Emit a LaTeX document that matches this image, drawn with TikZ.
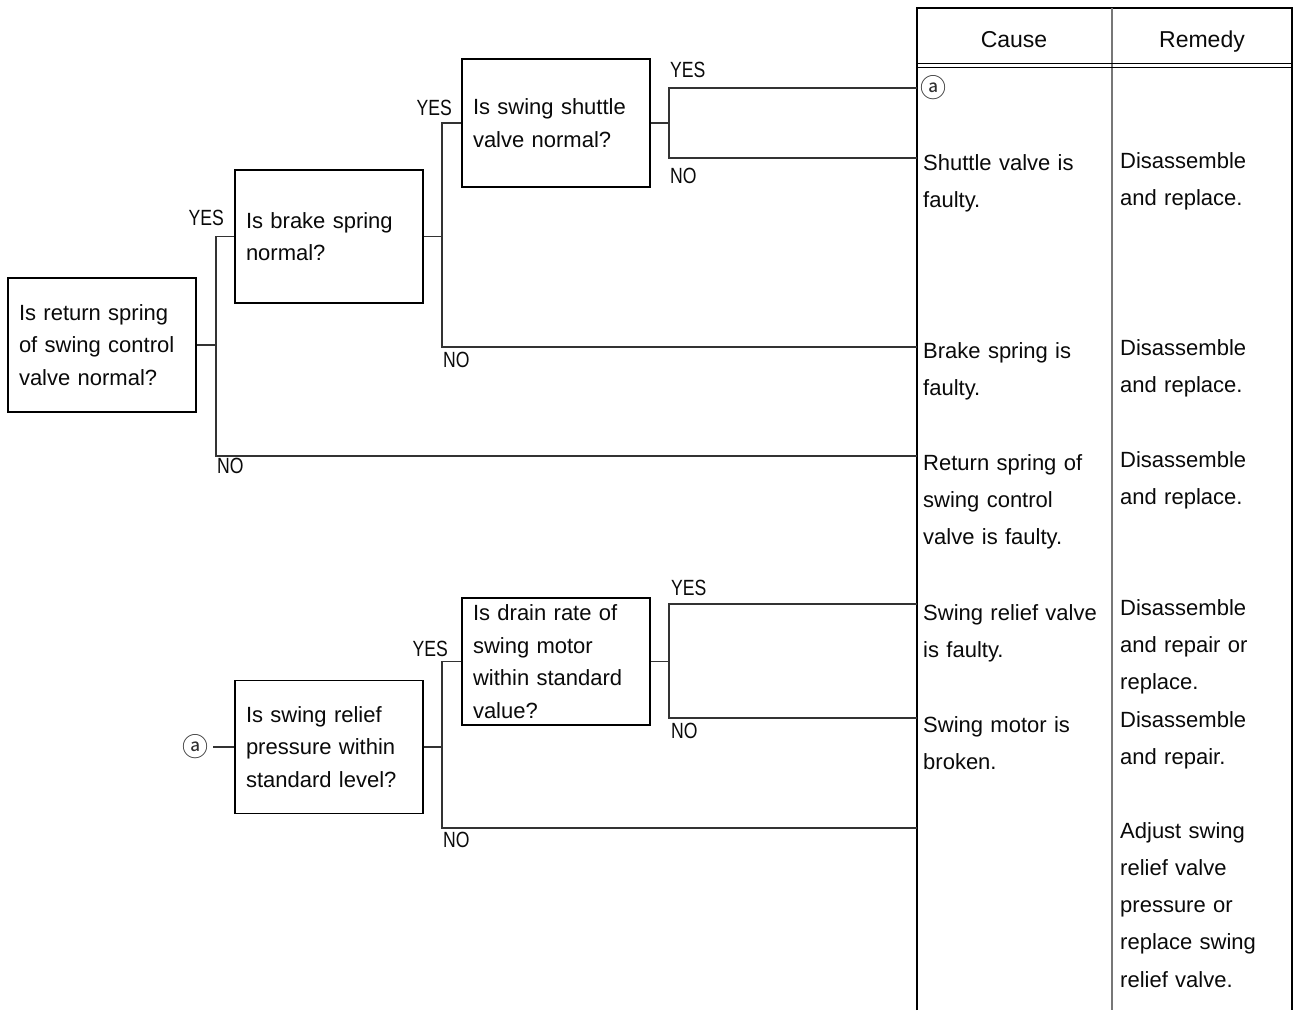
\documentclass[tikz,border=0pt]{standalone}
\usepackage{fontspec}
\setmainfont{Liberation Sans}
\newfontfamily\lblfont[FakeStretch=0.8]{Liberation Sans}
\newfontfamily\symfont{Noto Sans CJK JP}
\definecolor{txt}{HTML}{0A0A0A}
\definecolor{lin}{HTML}{333333}
\definecolor{divc}{HTML}{777777}
\begin{document}
\begin{tikzpicture}[x=1pt,y=-1pt,
  qbox/.style={draw=black, line width=1.5pt, text width=166pt, align=left,
    inner xsep=11pt, inner ysep=0pt, minimum width=188pt,
    font=\fontsize{22}{32.5}\selectfont, text=txt},
  cell/.style={anchor=base west, text width=185pt, align=left, inner sep=0pt,
    font=\fontsize{22}{37.3}\selectfont, text=txt},
  rcell/.style={cell, text width=168pt},
  hdr/.style={anchor=base, inner sep=0pt, font=\fontsize{23}{26}\selectfont, text=txt},
  lbl/.style={inner sep=0pt, font={\lblfont\fontsize{22}{24}\selectfont}, text=txt},
  circ/.style={inner sep=0pt, font={\symfont\fontsize{26}{28}\selectfont}, text=txt!85},
  conn/.style={draw=lin, line width=1.1pt},
  tbl/.style={draw=black, line width=1.8pt}
]
\fill[white] (0,0) rectangle (1300,1010);
\useasboundingbox (0,0) rectangle (1300,1010);

% ---------- table ----------
\draw[tbl] (917,1010) -- (917,8) -- (1292,8) -- (1292,1010);
\draw[draw=divc, line width=1.4pt] (1112,8) -- (1112,1010);
\draw[draw=black, line width=1pt] (917,63.5) -- (1292,63.5);
\draw[draw=black, line width=1pt] (917,67.5) -- (1292,67.5);
\node[hdr] (hcause) at (1014,47) {Cause};
\node[hdr] (hremedy) at (1202,47) {Remedy};

% end points on the table edge
\coordinate (e0) at (917,88);
\coordinate (e1) at (917,158);
\coordinate (e2) at (917,347);
\coordinate (e3) at (917,456);
\coordinate (e4) at (917,604);
\coordinate (e5) at (917,718);
\coordinate (e6) at (917,828);

% ---------- question boxes ----------
\node[qbox, minimum height=134pt] (q1) at (102,345) {Is return spring\\of swing control\\valve normal?};
\node[qbox, minimum height=133pt] (q2) at (329,236.5) {Is brake spring\\normal?};
\node[qbox, minimum height=128pt] (q3) at (556,123) {Is swing shuttle\\valve normal?};
\node[qbox, minimum height=133pt] (q4) at (329,747) {Is swing relief\\pressure within\\standard level?};
\node[qbox, minimum height=127pt] (q5) at (556,661.5) {Is drain rate of\\swing motor\\within standard\\value?};

\node[circ] (a2) at (195,747) {ⓐ};

% ---------- branch points ----------
\coordinate (b1) at (216,345);
\coordinate (b2) at (442,236.5);
\coordinate (b3) at (669,123);
\coordinate (b4) at (442,747);
\coordinate (b5) at (669,661.5);

% ---------- connectors ----------
\draw[conn] (q1.east) -- (b1);
\draw[conn] (b1) |- (q2.west);
\draw[conn] (b1) |- (e3);
\draw[conn] (q2.east) -- (b2);
\draw[conn] (b2) |- (q3.west);
\draw[conn] (b2) |- (e2);
\draw[conn] (q3.east) -- (b3);
\draw[conn] (b3) |- (e0);
\draw[conn] (b3) |- (e1);

\draw[conn] ([xshift=5pt]a2.east) -- (q4.west);
\draw[conn] (q4.east) -- (b4);
\draw[conn] (b4) |- (q5.west);
\draw[conn] (b4) |- (e6);
\draw[conn] (q5.east) -- (b5);
\draw[conn] (b5) |- (e4);
\draw[conn] (b5) |- (e5);

% ---------- YES / NO labels ----------
\node[lbl, anchor=base east] (y1) at (224,225) {YES};
\node[lbl, anchor=base west] (n1) at (217,473) {NO};
\node[lbl, anchor=base east] (y2) at (452,115) {YES};
\node[lbl, anchor=base west] (n2) at (443,367) {NO};
\node[lbl, anchor=base west] (y3) at (670,77) {YES};
\node[lbl, anchor=base west] (n3) at (670,183) {NO};
\node[lbl, anchor=base east] (y4) at (448,656) {YES};
\node[lbl, anchor=base west] (n4) at (443,847) {NO};
\node[lbl, anchor=base west] (y5) at (671,595) {YES};
\node[lbl, anchor=base west] (n5) at (671,738) {NO};

% ---------- causes ----------
\node[circ] (a1) at (933,87.5) {ⓐ};
\node[cell] (c1) at (923,170) {Shuttle valve is\\faulty.};
\node[cell] (c2) at (923,358) {Brake spring is\\faulty.};
\node[cell] (c3) at (923,470) {Return spring of\\swing control\\valve is faulty.};
\node[cell] (c4) at (923,620) {Swing relief valve\\is faulty.};
\node[cell] (c5) at (923,732) {Swing motor is\\broken.};

% ---------- remedies ----------
\node[rcell] (r1) at (1120,168) {Disassemble\\and replace.};
\node[rcell] (r2) at (1120,355) {Disassemble\\and replace.};
\node[rcell] (r3) at (1120,467) {Disassemble\\and replace.};
\node[rcell] (r4) at (1120,615) {Disassemble\\and repair or\\replace.};
\node[rcell] (r5) at (1120,727) {Disassemble\\and repair.};
\node[rcell] (r6) at (1120,838) {Adjust swing\\relief valve\\pressure or\\replace swing\\relief valve.};
\end{tikzpicture}
\end{document}
